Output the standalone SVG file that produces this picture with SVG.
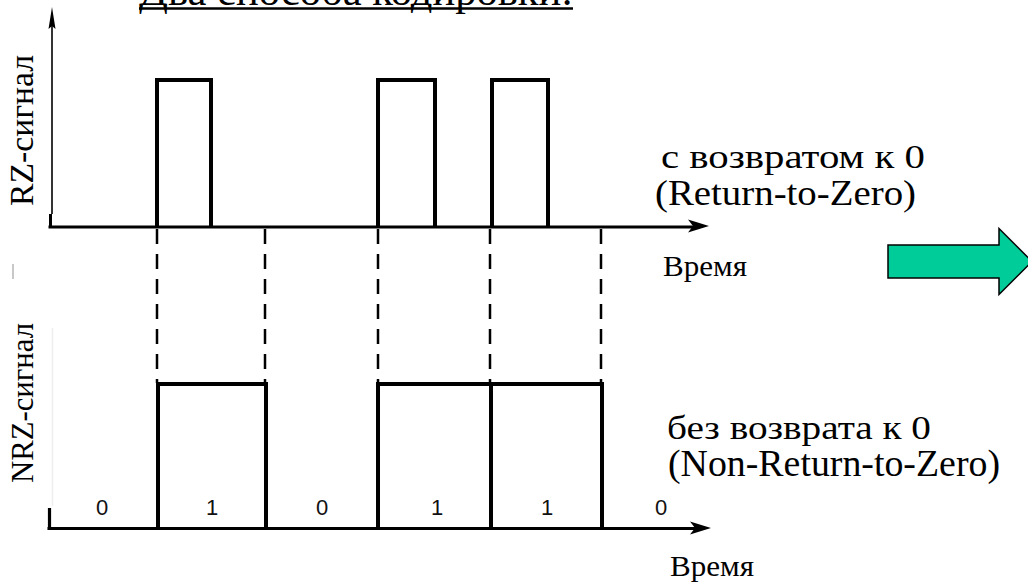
<svg xmlns="http://www.w3.org/2000/svg" width="1028" height="584" viewBox="0 0 1028 584">
  <style>
    .serif { font-family: "Liberation Serif", "DejaVu Serif", "Times New Roman", serif; fill: #000; }
    .bit { font-family: "Liberation Sans", Arial, sans-serif; font-size: 22px; fill: #111; text-anchor: middle; }
    .axis { stroke: #000; stroke-width: 3; fill: none; stroke-linecap: square; }
    .wave { stroke: #000; stroke-width: 4; fill: none; stroke-linejoin: miter; }
    .guide { stroke: #000; stroke-width: 2.5; fill: none; stroke-dasharray: 15 10; }
    .head { fill: #000; stroke: none; }
  </style>

  <rect width="1028" height="584" fill="#fff"/>

  <!-- title -->
  <g id="title">
    <text class="serif" x="139" y="5" font-size="43" textLength="434" lengthAdjust="spacingAndGlyphs">Два способа кодировки:</text>
    <line x1="139" y1="8.5" x2="573" y2="8.5" stroke="#000" stroke-width="2.5"/>
  </g>

  <!-- RZ signal: axes and pulses -->
  <g id="rz-signal">
    <line x1="52" y1="20" x2="52" y2="214" stroke="#000" stroke-width="1.6"/>
    <polygon class="head" points="52,7 55.5,29 52,26 48.5,29"/>
    <line x1="50.5" y1="214" x2="50.5" y2="228" stroke="#000" stroke-width="3"/>
    <line class="axis" x1="50" y1="227" x2="694" y2="227"/>
    <polygon class="head" points="709,226 688,219.5 693,226 688,232.5"/>
    <polyline class="wave" points="157,227 157,80 211,80 211,227"/>
    <polyline class="wave" points="378,227 378,80 435,80 435,227"/>
    <polyline class="wave" points="492,227 492,80 548,80 548,227"/>
    <text class="serif" font-size="33" transform="translate(33,206) rotate(-90)" textLength="151" lengthAdjust="spacingAndGlyphs">RZ-сигнал</text>
  </g>

  <!-- bit boundaries carried down to the NRZ trace -->
  <g id="connectors">
    <line class="guide" x1="157" y1="229" x2="157" y2="383"/>
    <line class="guide" x1="265" y1="229" x2="265" y2="383"/>
    <line class="guide" x1="378" y1="229" x2="378" y2="383"/>
    <line class="guide" x1="490" y1="229" x2="490" y2="383"/>
    <line class="guide" x1="601" y1="229" x2="601" y2="383"/>
  </g>

  <!-- NRZ signal: axes and levels -->
  <g id="nrz-signal">
    <line x1="52.5" y1="328" x2="52.5" y2="506" stroke="#eeeeee" stroke-width="1.5"/>
    <line x1="13" y1="264" x2="13" y2="279" stroke="#c8c8c8" stroke-width="2"/>
    <line x1="49.5" y1="508" x2="49.5" y2="530" stroke="#000" stroke-width="3.2"/>
    <line class="axis" x1="49" y1="528.5" x2="696" y2="528.5"/>
    <polygon class="head" points="711,528 690,521.5 695,528 690,534.5"/>
    <polyline class="wave" points="158,528 158,384 266,384 266,528"/>
    <polyline class="wave" points="378,528 378,384 602,384 602,528"/>
    <line x1="491" y1="384" x2="491" y2="528" stroke="#000" stroke-width="4"/>
    <text class="serif" font-size="32" transform="translate(33,483) rotate(-90)" textLength="160" lengthAdjust="spacingAndGlyphs">NRZ-сигнал</text>
  </g>

  <!-- bit values -->
  <g id="bits">
    <text class="bit" x="102" y="515">0</text>
    <text class="bit" x="212" y="515">1</text>
    <text class="bit" x="322" y="515">0</text>
    <text class="bit" x="437" y="515">1</text>
    <text class="bit" x="547" y="515">1</text>
    <text class="bit" x="661" y="515">0</text>
  </g>

  <!-- captions -->
  <g id="rz-caption">
    <text class="serif" x="661" y="168" font-size="34" textLength="264" lengthAdjust="spacingAndGlyphs">с возвратом к 0</text>
    <text class="serif" x="655" y="205" font-size="36" textLength="261" lengthAdjust="spacingAndGlyphs">(Return-to-Zero)</text>
    <text class="serif" x="663" y="276" font-size="30" textLength="84" lengthAdjust="spacingAndGlyphs">Время</text>
  </g>
  <g id="nrz-caption">
    <text class="serif" x="667" y="439" font-size="34" textLength="264" lengthAdjust="spacingAndGlyphs">без возврата к 0</text>
    <text class="serif" x="668" y="476" font-size="37" textLength="332" lengthAdjust="spacingAndGlyphs">(Non-Return-to-Zero)</text>
    <text class="serif" x="670" y="576" font-size="30" textLength="84" lengthAdjust="spacingAndGlyphs">Время</text>
  </g>

  <!-- block arrow -->
  <g id="next-arrow">
    <polygon points="888,245 999,245 999,228.5 1032,261.5 999,294.5 999,278 888,278" fill="#00cc99" stroke="#000" stroke-width="1.5" stroke-linejoin="miter"/>
  </g>
</svg>
